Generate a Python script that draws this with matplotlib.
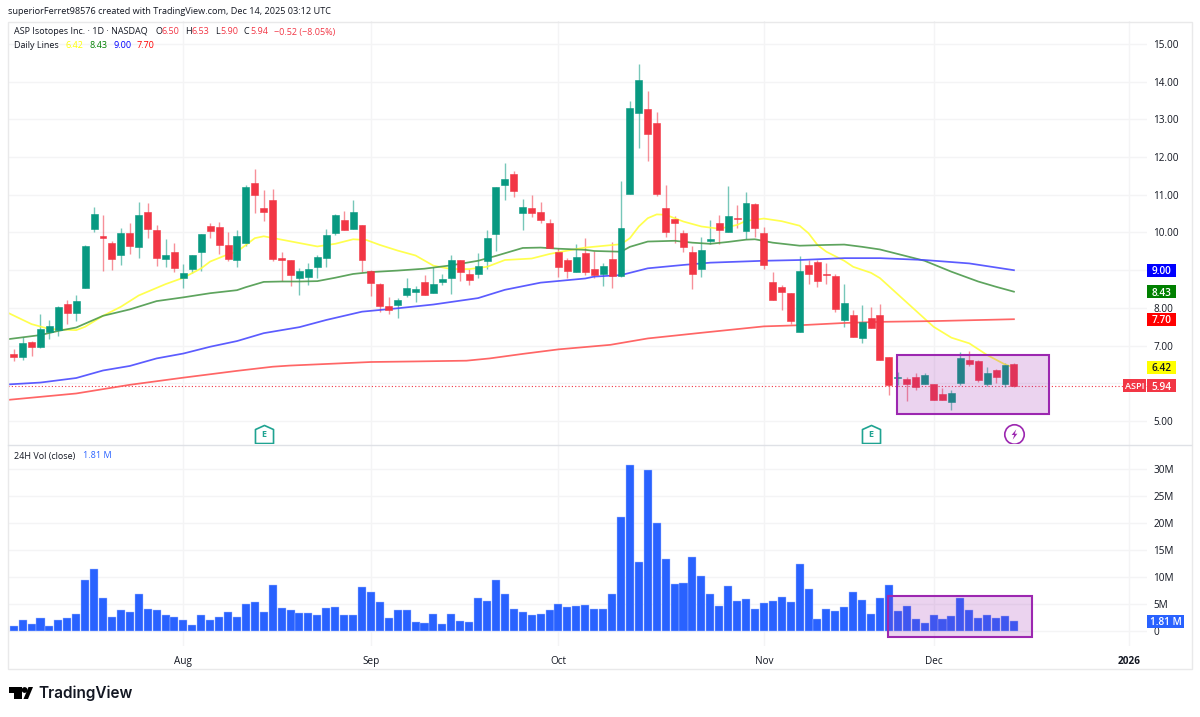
import matplotlib
matplotlib.use('Agg')
import matplotlib.pyplot as plt
from matplotlib.patches import Rectangle, Polygon, Circle
from matplotlib.path import Path
from matplotlib.transforms import blended_transform_factory

plt.rcParams['font.family'] = ['Open Sans', 'DejaVu Sans']

# candles, one per trading day
opens = [6.79, 6.69, 7.10, 6.97, 7.37, 7.41, 8.10, 7.87, 8.52, 10.08, 9.90, 9.72, 9.40, 9.99, 9.61, 10.55, 10.06, 9.31, 9.49, 8.79,
         9.02, 9.47, 10.16, 10.14, 9.68, 9.27, 9.73, 11.32, 10.64, 10.86, 9.32, 9.28, 8.78, 8.83, 9.09, 9.33, 9.98, 10.32, 10.10, 10.19,
         8.99, 8.63, 8.04, 8.08, 8.33, 8.42, 8.68, 8.40, 8.69, 8.78, 9.26, 8.91, 8.91, 9.24, 9.96, 11.26, 11.55, 10.51, 10.66, 10.55,
         10.26, 9.49, 9.28, 8.94, 9.45, 9.03, 8.90, 9.30, 8.85, 11.02, 13.18, 13.27, 12.91, 10.66, 10.36, 9.99, 9.48, 9.02, 9.78, 10.26,
         10.00, 10.38, 10.05, 10.75, 9.99, 8.70, 8.56, 8.39, 7.37, 9.14, 9.22, 8.90, 8.85, 7.69, 7.80, 7.21, 7.74, 7.82, 6.70, 6.15,
         6.11, 6.16, 5.98, 5.97, 5.72, 5.50, 6.00, 6.62, 6.59, 5.98, 6.34, 5.99, 6.50]
highs = [6.90, 7.24, 7.11, 7.84, 7.68, 8.05, 8.21, 8.34, 9.68, 10.68, 10.47, 9.77, 10.11, 10.24, 10.81, 10.78, 10.20, 9.83, 9.71, 9.16,
         9.39, 9.97, 10.24, 10.29, 10.00, 10.07, 11.25, 11.68, 11.14, 11.16, 9.47, 9.28, 9.07, 9.18, 9.40, 10.08, 10.49, 10.58, 10.87, 10.19,
         9.01, 8.65, 8.30, 8.25, 8.80, 8.58, 8.87, 9.09, 8.90, 9.40, 9.26, 9.02, 9.45, 10.07, 11.22, 11.85, 11.62, 10.89, 10.99, 10.81,
         10.35, 9.58, 9.32, 9.69, 9.85, 9.50, 9.18, 9.75, 11.37, 13.48, 14.48, 13.75, 13.19, 11.26, 10.44, 10.06, 9.64, 9.89, 10.33, 10.47,
         11.23, 10.73, 11.07, 10.77, 10.14, 8.94, 8.61, 8.39, 9.38, 9.27, 9.27, 9.18, 8.89, 8.63, 7.94, 8.08, 8.02, 8.10, 6.70, 6.30,
         6.16, 6.27, 6.27, 5.98, 5.87, 5.81, 6.82, 6.85, 6.62, 6.43, 6.37, 6.53, 6.53]
lows = [6.60, 6.62, 6.72, 6.93, 7.18, 7.26, 7.56, 7.64, 8.52, 10.02, 8.99, 9.01, 9.14, 9.43, 9.33, 9.85, 9.12, 9.08, 8.96, 8.54,
        8.93, 8.99, 9.85, 9.43, 9.25, 9.09, 9.65, 10.53, 10.31, 9.25, 8.72, 8.59, 8.35, 8.61, 8.79, 9.09, 9.93, 10.07, 10.08, 8.96,
        8.32, 7.88, 7.84, 7.72, 8.30, 8.15, 8.33, 8.40, 8.60, 8.38, 8.71, 8.61, 8.79, 9.02, 9.50, 10.85, 10.95, 10.07, 10.42, 10.25,
        9.60, 8.83, 8.79, 8.94, 8.87, 8.79, 8.58, 8.54, 8.81, 11.02, 12.25, 11.90, 10.97, 9.87, 9.73, 9.48, 8.50, 8.81, 9.70, 9.70,
        10.00, 10.13, 9.83, 9.87, 9.02, 8.21, 7.94, 7.58, 7.37, 8.63, 8.56, 8.63, 7.90, 7.50, 7.24, 7.06, 7.46, 6.63, 5.69, 5.95,
        5.53, 5.82, 5.97, 5.56, 5.56, 5.29, 5.96, 6.47, 6.04, 5.94, 6.01, 5.89, 5.90]
closes = [6.69, 7.07, 6.97, 7.44, 7.51, 8.02, 7.87, 8.17, 9.63, 10.49, 9.86, 9.31, 9.99, 9.64, 10.47, 10.08, 9.33, 9.40, 9.07, 8.93,
          9.39, 9.97, 10.05, 9.67, 9.31, 9.91, 11.20, 11.00, 10.54, 9.30, 9.27, 8.87, 8.97, 9.02, 9.34, 9.94, 10.46, 10.07, 10.54, 9.28,
          8.65, 8.05, 7.95, 8.20, 8.53, 8.49, 8.35, 8.63, 8.77, 9.26, 8.96, 8.73, 9.11, 9.85, 11.22, 11.43, 11.11, 10.68, 10.53, 10.34,
          9.60, 9.09, 8.99, 9.35, 8.96, 8.87, 9.11, 8.84, 10.12, 13.30, 14.04, 12.61, 11.02, 10.00, 10.26, 9.61, 8.90, 9.54, 9.82, 10.07,
          10.43, 10.36, 10.77, 10.11, 9.13, 8.21, 8.42, 7.65, 8.98, 8.90, 8.72, 8.87, 7.98, 8.12, 7.24, 7.63, 7.48, 6.63, 5.95, 6.18,
          5.98, 5.90, 6.22, 5.56, 5.56, 5.74, 6.67, 6.51, 6.09, 6.28, 6.16, 6.48, 5.94]
# 24H volume in millions
volume = [0.93, 1.98, 1.36, 2.35, 0.93, 2.10, 2.35, 3.15, 9.38, 11.54, 6.05, 2.53, 3.83, 3.46, 6.91, 4.01, 3.83, 2.96, 2.53, 1.98,
          1.11, 2.96, 2.10, 2.53, 3.46, 2.53, 5.00, 5.31, 3.58, 8.52, 4.32, 3.83, 3.27, 3.27, 2.96, 4.26, 4.38, 2.96, 2.96, 8.21,
          7.16, 5.43, 2.35, 3.83, 3.89, 1.67, 1.42, 3.15, 1.23, 3.15, 1.85, 1.67, 6.05, 5.62, 9.38, 6.91, 4.14, 3.46, 2.96, 3.15,
          3.89, 5.00, 4.44, 4.63, 4.75, 4.14, 4.01, 6.91, 21.05, 30.68, 12.72, 29.75, 20.06, 13.33, 8.70, 8.83, 13.77, 10.12, 6.91, 4.63,
          8.27, 5.62, 5.93, 4.01, 5.19, 5.49, 6.23, 5.31, 12.41, 7.78, 2.28, 4.01, 3.70, 4.44, 7.16, 5.74, 3.15, 6.05, 8.52, 3.70,
          4.63, 2.16, 1.42, 2.90, 2.28, 2.72, 6.05, 3.89, 2.41, 2.96, 2.41, 2.84, 1.81]

# moving averages, read at some days
yellow_x = [-0.64, 2, 4, 7, 8, 10, 12, 14, 17, 19, 21, 22, 24, 25, 26, 27, 28, 30, 32, 34, 36, 38, 39.5, 41, 43, 45, 47, 49, 51, 53, 55,
            58, 60, 62, 64, 68, 69, 70, 71, 72, 73, 75, 77, 79, 81, 82, 84, 86, 88, 89, 90, 91, 93, 94, 96, 97, 99, 101, 103, 105, 107, 109, 111, 112]
yellow_y = [7.87, 7.57, 7.44, 7.41, 7.50, 7.79, 8.03, 8.33, 8.63, 8.80, 9.05, 9.23, 9.42, 9.49, 9.67, 9.85, 9.90, 9.81, 9.72, 9.63, 9.70, 9.82, 9.80, 9.67, 9.52, 9.39, 9.12, 9.03, 9.03, 9.09, 9.27,
            9.31, 9.43, 9.52, 9.60, 9.69, 9.85, 10.16, 10.38, 10.48, 10.47, 10.29, 10.16, 10.10, 10.20, 10.31, 10.37, 10.30, 10.18, 9.98, 9.67, 9.49, 9.25, 9.09, 8.93, 8.79, 8.36, 7.93, 7.50, 7.21, 7.06, 6.75, 6.50, 6.42]
green_x = [-0.64, 3, 5, 7, 10, 13, 16, 19, 22, 25, 26, 28, 30, 32, 34, 36, 38, 40, 43, 46, 49, 52, 54, 57, 59, 61, 64,
           65, 68, 69, 71, 74, 76, 78, 80, 82, 83, 85, 88, 91, 93, 95, 97, 99, 102, 105, 108, 110, 112]
green_y = [7.17, 7.28, 7.39, 7.48, 7.79, 7.96, 8.18, 8.28, 8.39, 8.47, 8.55, 8.69, 8.70, 8.70, 8.71, 8.80, 8.90, 8.95, 8.99, 9.04, 9.13, 9.25, 9.38, 9.59, 9.60, 9.57, 9.54,
           9.51, 9.49, 9.62, 9.76, 9.78, 9.73, 9.70, 9.75, 9.81, 9.82, 9.73, 9.65, 9.67, 9.68, 9.62, 9.55, 9.43, 9.25, 8.96, 8.70, 8.56, 8.43]
blue_x = [-0.64, 3, 7, 10, 13, 16, 19, 22, 25, 28, 32, 35, 39, 43, 47, 52, 55, 59, 64, 65, 68, 71, 75, 78, 84, 88, 93, 97, 102, 107, 112]
blue_y = [5.97, 6.02, 6.14, 6.34, 6.46, 6.66, 6.79, 6.97, 7.12, 7.33, 7.49, 7.68, 7.90, 7.99, 8.09, 8.26, 8.48, 8.67, 8.78, 8.83, 8.87, 9.05, 9.14, 9.20, 9.25, 9.27, 9.32, 9.32, 9.27, 9.18, 9.00]
red_x = [-0.64, 7, 13, 19, 25, 29, 30.9, 40, 45, 50.7, 53.3, 57, 61, 66.8, 71, 77, 84, 88, 93, 97, 103, 112]
red_y = [5.56, 5.73, 5.96, 6.15, 6.33, 6.44, 6.47, 6.565, 6.58, 6.60, 6.66, 6.78, 6.90, 7.02, 7.19, 7.34, 7.51, 7.54, 7.60, 7.63, 7.65, 7.70]

price_ticks = [5, 6, 7, 8, 9, 10, 11, 12, 13, 14, 15]
price_tick_labels = ['5.00', '', '7.00', '8.00', '', '10.00', '11.00', '12.00', '13.00', '14.00', '15.00']
vol_ticks = [0, 5, 10, 15, 20, 25, 30]
vol_tick_labels = ['0', '5M', '10M', '15M', '20M', '25M', '30M']
month_pos = [19, 40, 61, 84, 103, 124.9]
month_labels = ['Aug', 'Sep', 'Oct', 'Nov', 'Dec', '2026']
line_labels = ['6.42', '8.43', '9.00', '7.70']
line_values = [6.42, 8.43, 9.00, 7.70]
line_colors = ['#ffff00', '#008000', '#0000ff', '#ff0000']
badge_text = ['#131722', 'white', 'white', 'white']
price_box = (98.9, 115.9, 5.19, 6.75)
vol_box = (97.9, 114.03, -1.11, 6.48)
earnings_days = [28, 96]
split_day = 112
icon_price = 4.655

GREEN = '#089981'
RED = '#F23645'
GRID = '#f4f4f5'
TEXT = '#131722'
W, H = 1200, 717
PANE_LEFT, PANE_RIGHT = 8, 1147


def pane(left, top, right, bottom):
    return fig.add_axes([left / W, 1 - bottom / H, (right - left) / W, (bottom - top) / H])


def badge(a, value, label, bg, fg, left, right, fontsize=7.2):
    # box on the scale, left and right in pixels, 13 px high around the value
    tr = blended_transform_factory(a.transAxes, a.transData)
    y0, y1 = a.get_ylim()
    high = 13 * (y1 - y0) / a.get_window_extent().height
    span = PANE_RIGHT - PANE_LEFT
    x0 = (left - PANE_LEFT) / span
    x1 = (right - PANE_LEFT) / span
    a.add_patch(Rectangle((x0, value - high / 2), x1 - x0, high, transform=tr, fc=bg, ec='none', clip_on=False, zorder=8))
    a.text((x0 + x1) / 2, value, label, transform=tr, color=fg, fontsize=fontsize, fontweight='semibold', ha='center',
           va='center_baseline', clip_on=False, zorder=9)


fig = plt.figure(figsize=(12, 7.17), dpi=100, facecolor='white')

ax = pane(PANE_LEFT, 21, PANE_RIGHT, 444)
vol = pane(PANE_LEFT, 444, PANE_RIGHT, 646)
for a in (ax, vol):
    a.set_xlim(-0.638, 126.9)
    for s in a.spines.values():
        s.set_visible(False)
    a.set_axisbelow(True)
    a.grid(True, color=GRID, lw=1)
    a.set_xticks(month_pos)
    a.yaxis.tick_right()
    a.tick_params(length=0, colors=TEXT, labelsize=7.2, pad=4.5)
ax.set_ylim(4.39, 15.61)
ax.set_yticks(price_ticks, price_tick_labels)
ax.tick_params(axis='x', labelbottom=False)
vol.set_ylim(-2.78, 34.63)
vol.set_yticks(vol_ticks, vol_tick_labels)
vol.set_xticks(month_pos, month_labels)
vol.tick_params(axis='x', pad=7, labelsize=7.2)
vol.get_xticklabels()[-1].set_fontweight('bold')

days = range(len(opens))
up = [c >= o for o, c in zip(opens, closes)]
colors = [GREEN if u else RED for u in up]
ax.vlines(days, lows, highs, colors=colors, lw=1, alpha=0.55, zorder=3)
ax.bar(days, [abs(c - o) for o, c in zip(opens, closes)], bottom=[min(o, c) for o, c in zip(opens, closes)],
       width=0.78, color=colors, edgecolor=colors, lw=0.4, zorder=4)

ax.plot(yellow_x, yellow_y, color='#ffff3c', lw=1.25, alpha=0.9, zorder=3.5)
ax.plot(green_x, green_y, color='#4c9a4c', lw=1.25, alpha=0.9, zorder=3.5)
ax.plot(blue_x, blue_y, color='#4a4aff', lw=1.25, alpha=0.9, zorder=3.5)
ax.plot(red_x, red_y, color='#ff5555', lw=1.25, alpha=0.9, zorder=3.5)
ax.axhline(closes[-1], color=RED, lw=0.8, ls=(0, (1, 2)), zorder=2)

x0, x1, y0, y1 = price_box
ax.add_patch(Rectangle((x0, y0), x1 - x0, y1 - y0, fc='#9c27b0', ec='none', alpha=0.2, zorder=5))
ax.add_patch(Rectangle((x0, y0), x1 - x0, y1 - y0, fc='none', ec='#9c27b0', lw=1.5, zorder=5))

# event markers under the candles
house = Path([(-1, -1), (-1, 0.55), (0, 1), (1, 0.55), (1, -1), (-1, -1)], closed=True)
for d in earnings_days:
    ax.plot(d, icon_price, marker=house, ms=13, mfc='white', mec='#1fa391', mew=1.2, zorder=6)
    ax.text(d, icon_price - 0.02, 'E', color='#1fa391', fontsize=6.5, fontweight='bold', ha='center', va='center', zorder=7)
bolt = Path([(0.35, 1), (-0.55, -0.1), (-0.05, -0.1), (-0.35, -1), (0.55, 0.15), (0.05, 0.15), (0.35, 1)], closed=True)
ax.plot(split_day, icon_price, marker='o', ms=14, mfc='white', mec='#9c27b0', mew=1.2, zorder=6)
ax.plot(split_day, icon_price, marker=bolt, ms=7.5, mfc='#9c27b0', mec='none', zorder=7)

# value badges on the price scale
for label, value, bg, fg in zip(line_labels, line_values, line_colors, badge_text):
    badge(ax, value, label, bg, fg, 1147, 1176)
badge(ax, closes[-1], '5.94', RED, 'white', 1147, 1176)
badge(ax, closes[-1], 'ASPI', RED, 'white', 1123, 1146, fontsize=6.6)

vol.bar(days, volume, width=0.9, color='#2962ff', edgecolor='#a9c0ff', lw=0.3, zorder=3)
x0, x1, y0, y1 = vol_box
vol.add_patch(Rectangle((x0, y0), x1 - x0, y1 - y0, fc='#9c27b0', ec='none', alpha=0.2, zorder=5))
vol.add_patch(Rectangle((x0, y0), x1 - x0, y1 - y0, fc='none', ec='#9c27b0', lw=1.5, zorder=5))
badge(vol, volume[-1], '1.81 M', '#2962ff', 'white', 1147, 1184)

# page layer in pixels: frame, logo, header, legends
page = fig.add_axes([0, 0, 1, 1], zorder=10)
page.set(xlim=(0, W), ylim=(H, 0))
page.axis('off')
page.add_patch(Rectangle((7.5, 21.5), 1184, 647.5, fc='none', ec='#e9e9ea', lw=1))
page.plot([8, 1191], [444.5, 444.5], color='#dfe1e6', lw=1)
page.add_patch(Polygon([(9, 687), (21.5, 687), (21.5, 699), (14, 699), (14, 693), (9, 693)], fc='black'))
page.add_patch(Circle((24.6, 690), 2.9, fc='black'))
page.add_patch(Polygon([(23.5, 699), (28.5, 687), (33, 687), (28, 699)], fc='black'))
page.text(38.5, 693, 'TradingView', fontsize=11, fontweight='semibold', family='Inter', color='#131722', va='center')
page.text(8, 12, 'superiorFerret98576 created with TradingView.com, Dec 14, 2025 03:12 UTC',
          fontsize=6.6, color=TEXT, va='center')


def legend_text(x, y, s, color=TEXT):
    page.text(x, y, s, fontsize=6.5, color=color, va='center', zorder=20)


legend_text(14, 32, 'ASP Isotopes Inc. · 1D · NASDAQ')
for x, s, c in [(155, 'O', TEXT), (161, '6.50', RED), (185, 'H', TEXT), (191, '6.53', RED), (215, 'L', TEXT), (220, '5.90', RED),
                (244, 'C', TEXT), (250, '5.94', RED), (274, '−0.52 (−8.05%)', RED)]:
    legend_text(x, 32, s, c)
legend_text(14, 46, 'Daily Lines')
for x, label, c in zip([65, 89, 113, 137], line_labels, line_colors):
    legend_text(x, 46, label, c)
legend_text(14, 456, '24H Vol (close)')
legend_text(83, 456, '1.81 M', '#2962ff')

fig.savefig('out.png', dpi=100)
